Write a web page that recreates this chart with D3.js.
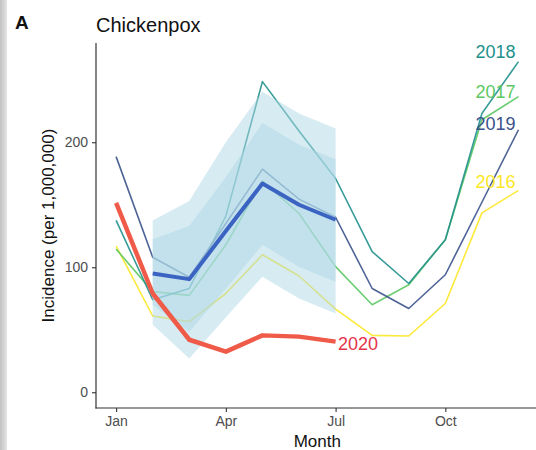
<!DOCTYPE html>
<html>
<head>
<meta charset="utf-8">
<script src="https://cdn.jsdelivr.net/npm/d3@7"></script>
<style>
  html, body { margin: 0; padding: 0; background: #fff; }
  svg { display: block; font-family: "Liberation Sans", Arial, sans-serif; }
</style>
</head>
<body>
<svg id="chart" width="536" height="450"></svg>
<script>
// Monthly chickenpox incidence (per 1,000,000)
const months = ["Jan", "Feb", "Mar", "Apr", "May", "Jun", "Jul", "Aug", "Sep", "Oct", "Nov", "Dec"];
const tickMonths = ["Jan", "Apr", "Jul", "Oct"];
const yTicks = [0, 100, 200];

const years = ["2016", "2017", "2018", "2019"];
const y2016 = [117, 61, 56.5, 79, 110, 93, 66.5, 45.5, 45, 71, 143.5, 161.5];
const y2017 = [114.5, 80.5, 77.5, 118, 169, 143, 100.5, 70, 86, 122, 218, 236.5];
const y2018 = [137.5, 74, 83, 141, 248.5, 209, 171, 112.5, 87, 122, 223, 264.5];
const y2019 = [188.5, 108, 92, 135, 178.5, 154.5, 140, 83, 67, 94, 152, 210];
const y2020 = [151.5, 79, 42, 32.5, 45.5, 44.5, 40.5];

// Expected level and prediction bands, Feb–Jul
const bandMonths = ["Feb", "Mar", "Apr", "May", "Jun", "Jul"];
const expected = [95, 90.5, 129, 167, 150, 138];
const outerUpper = [137.5, 153, 200, 240.5, 223, 211];
const outerLower = [54, 27, 60, 92.5, 75, 63];
const innerUpper = [122.5, 133, 172, 215.5, 198, 186.5];
const innerLower = [70, 48.5, 83, 118, 100.5, 88.5];

const yearColors = { "2016": "#FDE725", "2017": "#5DC863", "2018": "#21908C", "2019": "#3B528B" };
const yearSeries = { "2016": y2016, "2017": y2017, "2018": y2018, "2019": y2019 };
const labelShift = { "2016": -2.5, "2017": 1.5, "2018": -3.5, "2019": 0 };

const svg = d3.select("#chart");

// soft grey edge on the left of the panel
const defs = svg.append("defs");
const grad = defs.append("linearGradient").attr("id", "edge").attr("x1", 0).attr("x2", 1);
grad.append("stop").attr("offset", 0).attr("stop-color", "#c2c2c2");
grad.append("stop").attr("offset", 1).attr("stop-color", "#e4e4e4");
svg.append("rect").attr("x", 0).attr("y", 0).attr("width", 7).attr("height", 450).attr("fill", "url(#edge)");

const plot = { left: 96, right: 538.6, top: 43, bottom: 408 };

const monthIndex = m => months.indexOf(m) + 1;
const x = d3.scaleLinear().domain([0.45, 12.55]).range([plot.left, plot.right]);
const y = d3.scaleLinear().domain([-12.6, 279.4]).range([plot.bottom, plot.top]);

const line = d3.line().x(d => x(d[0])).y(d => y(d[1]));

// year lines (drawn beneath the bands)
years.forEach(yr => {
  const pts = yearSeries[yr].map((v, i) => [i + 1, v]);
  svg.append("path")
    .attr("d", line(pts))
    .attr("fill", "none")
    .attr("stroke", yearColors[yr])
    .attr("stroke-opacity", 0.9)
    .attr("stroke-width", 1.6)
    .attr("stroke-linejoin", "round");
});

// bands
const area = d3.area().x(d => x(d[0])).y0(d => y(d[1])).y1(d => y(d[2]));
const outerPts = bandMonths.map((m, i) => [monthIndex(m), outerLower[i], outerUpper[i]]);
const innerPts = bandMonths.map((m, i) => [monthIndex(m), innerLower[i], innerUpper[i]]);
svg.append("path").attr("d", area(outerPts)).attr("fill", "#ADD8E6").attr("fill-opacity", 0.5);
svg.append("path").attr("d", area(innerPts)).attr("fill", "#ADD8E6").attr("fill-opacity", 0.5);

// expected level
svg.append("path")
  .attr("d", line(bandMonths.map((m, i) => [monthIndex(m), expected[i]])))
  .attr("fill", "none")
  .attr("stroke", "#3A63C2")
  .attr("stroke-width", 4)
  .attr("stroke-linejoin", "round");

// 2020
svg.append("path")
  .attr("d", line(y2020.map((v, i) => [i + 1, v])))
  .attr("fill", "none")
  .attr("stroke", "#F05A48")
  .attr("stroke-width", 4.5)
  .attr("stroke-linejoin", "round");

// end labels
years.forEach(yr => {
  const vals = yearSeries[yr];
  svg.append("text")
    .attr("x", x(12) - 3)
    .attr("y", y(vals[vals.length - 1]) + labelShift[yr])
    .attr("text-anchor", "end")
    .attr("font-size", 18)
    .attr("fill", yearColors[yr])
    .text(yr);
});
svg.append("text")
  .attr("x", x(y2020.length) + 2.5)
  .attr("y", y(y2020[y2020.length - 1]) + 8.5)
  .attr("font-size", 18)
  .attr("fill", "#E4344A")
  .text("2020");

// axes
const yAxis = d3.axisLeft(y).tickValues(yTicks).tickSize(4).tickPadding(4);
const xAxis = d3.axisBottom(x).tickValues(tickMonths.map(monthIndex))
  .tickFormat(v => months[v - 1]).tickSize(4).tickPadding(4);

const gy = svg.append("g").attr("transform", `translate(${plot.left},0)`).call(yAxis);
const gx = svg.append("g").attr("transform", `translate(0,${plot.bottom})`).call(xAxis);
[gx, gy].forEach(g => {
  g.select(".domain").remove();
  g.selectAll(".tick line").attr("stroke", "#333").attr("stroke-width", 1.1);
  g.selectAll(".tick text").attr("fill", "#4d4d4d").attr("font-size", 14)
    .attr("font-family", "'Liberation Sans', Arial, sans-serif");
});
svg.append("line").attr("x1", plot.left).attr("x2", plot.left)
  .attr("y1", plot.top).attr("y2", plot.bottom + 0.5)
  .attr("stroke", "#333").attr("stroke-width", 1.2);
svg.append("line").attr("x1", plot.left - 0.5).attr("x2", 536)
  .attr("y1", plot.bottom).attr("y2", plot.bottom)
  .attr("stroke", "#333").attr("stroke-width", 1.2);

// titles
svg.append("text").attr("x", (plot.left + plot.right) / 2).attr("y", 447)
  .attr("text-anchor", "middle").attr("font-size", 17).attr("fill", "#111").text("Month");
svg.append("text")
  .attr("transform", `translate(54,${(plot.top + plot.bottom) / 2}) rotate(-90)`)
  .attr("text-anchor", "middle").attr("font-size", 17).attr("fill", "#111")
  .text("Incidence (per 1,000,000)");
svg.append("text").attr("x", 96).attr("y", 31.5).attr("font-size", 20).attr("fill", "#111").text("Chickenpox");
svg.append("text").attr("x", 15).attr("y", 28.5).attr("font-size", 19).attr("font-weight", "bold")
  .attr("fill", "#111").text("A");
</script>
</body>
</html>
